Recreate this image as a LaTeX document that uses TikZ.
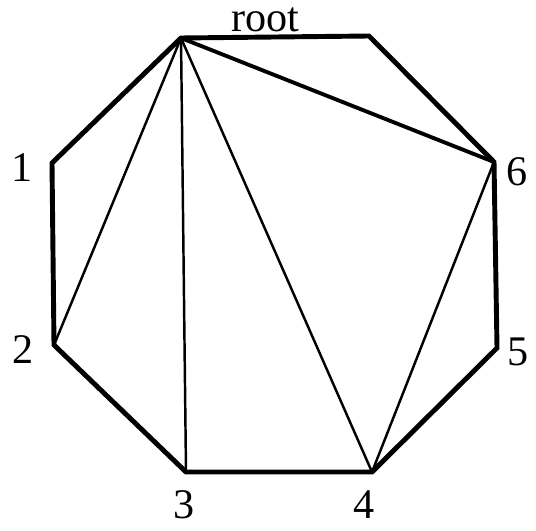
\documentclass[tikz,border=0pt]{standalone}
\usepackage{fontspec}
\setmainfont{Liberation Serif}
\usetikzlibrary{positioning}

\begin{document}
\begin{tikzpicture}[x=0.02cm, y=-0.02cm, every node/.style={font=\fontsize{24}{26}\selectfont, inner sep=0pt},
    rim/.style={line width=2.8pt, line join=miter}, diag/.style={line width=1.4pt}, maindiag/.style={line width=2.2pt}]
    \useasboundingbox (0,0) rectangle (536,530);
    % polygon corners
    \coordinate (v0) at (181,38);  \coordinate (v7) at (369,36);
    \coordinate (v6) at (494,162); \coordinate (v5) at (497,348);
    \coordinate (v4) at (372,472); \coordinate (v3) at (186,472);
    \coordinate (v2) at (54,345);  \coordinate (v1) at (52,163);
    \draw[rim] (v0)--(v7)--(v6)--(v5)--(v4)--(v3)--(v2)--(v1)--cycle;
    \draw[diag] (v0)--(v2); \draw[diag] (v0)--(v3); \draw[diag] (v0)--(v4); \draw[diag] (v4)--(v6);
    \draw[maindiag] (v0)--(v6);
    % labels
    \node[anchor=base] (lroot) at (265,32) {root};
    \node (l1) at (22,168) {1};
    \node (l2) at (23,350) {2};
    \node (l3) at (184,505) {3};
    \node (l4) at (364,505) {4};
    \node (l5) at (518,352) {5};
    \node (l6) at (517,172) {6};
\end{tikzpicture}
\end{document}
